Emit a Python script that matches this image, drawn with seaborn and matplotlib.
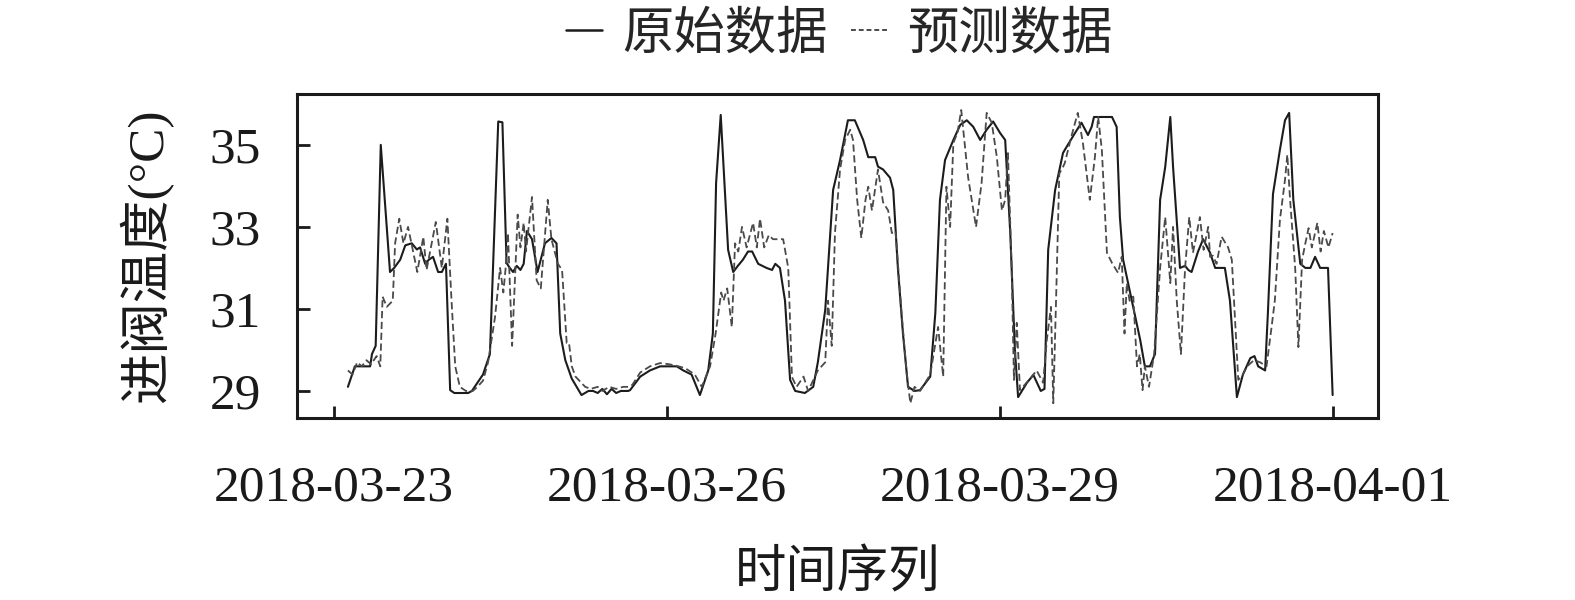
import numpy as np
import pandas as pd
import matplotlib
matplotlib.use("Agg")
import matplotlib.pyplot as plt
import matplotlib.dates as mdates
from matplotlib.lines import Line2D
import seaborn as sns

# Hours elapsed since 2018-03-23 00:00 and measured inlet-valve temperature
orig_hours = [3, 4.5, 7.8, 8.2, 9, 10.1, 12.1, 13, 14.3, 15.4, 16.8, 17.9, 18.6, 19.7,
              20.5, 21.4, 22.5, 23.3, 24.2, 25.1, 26, 29, 29.8, 31, 32.2, 33.7, 35.5,
              36.4, 37.3, 38, 38.7, 39.5, 40.3, 41, 41.7, 42.8, 44.0, 45.6, 47, 48.1,
              48.9, 50, 51.4, 53.5, 55, 56, 57, 58, 59, 60, 61, 62, 63.6, 64, 66.2,
              68.3, 70.5, 74.1, 75.5, 77.3, 79.1, 80.9, 81.9, 82.6, 83.6, 85.2, 86.3,
              87.3, 88.4, 89.5, 90.4, 91.7, 93.5, 94.7, 95.4, 96.4, 97.5, 98.6, 99.7,
              101.8, 103.6, 104.6, 106.2, 107.2, 107.9, 109.4, 111.1, 112.6, 114.4,
              115.5, 117, 117.6, 118.7, 120.2, 120.9, 121.9, 123, 124.1, 125.5, 126.7,
              128.9, 130, 131, 132.1, 133.9, 135.4, 136.8, 138.2, 139.7, 141.1, 142.5,
              144, 145.1, 146.2, 147.2, 147.9, 149.8, 151.2, 152.8, 153.6, 154.4,
              155.9, 157.6, 158, 160.2, 161.6, 163, 163.8, 164.3, 168.2, 169.2, 169.9,
              170.6, 172.5, 174.3, 175.3, 176.4, 177.5, 178.6, 179.7, 180.8, 181.4,
              182.9, 184, 184.7, 185.4, 186.8, 187.9, 189.4, 190.5, 192.6, 193.7,
              195.2, 196.5, 198.1, 199, 199.8, 201.3, 201.9, 203, 204.5, 205.6, 206.5,
              207.4, 208.9, 210, 211.1, 212.1, 213.2, 214.2, 214.9, 215.9]
orig_temp = [29.1, 29.6, 29.6, 29.9, 30.1, 35.0, 31.9, 32.0, 32.2, 32.55, 32.6, 32.45,
             32.5, 32.1, 32.2, 32.27, 31.9, 31.9, 32.1, 29.02, 28.95, 28.95, 29.0, 29.2,
             29.4, 29.9, 35.57, 35.55, 32.12, 32.0, 31.9, 32.05, 31.95, 32.1, 32.9,
             32.7, 31.9, 32.6, 32.73, 32.6, 30.4, 29.75, 29.3, 28.9, 29.0, 29.0, 28.95,
             29.05, 28.92, 29.05, 28.95, 29.0, 29.0, 29.02, 29.35, 29.5, 29.6, 29.6,
             29.5, 29.4, 28.9, 29.5, 30.4, 34.07, 35.73, 32.44, 31.9, 32.05, 32.2,
             32.4, 32.4, 32.1, 32.0, 31.95, 32.1, 32.0, 31.2, 29.27, 29.0, 28.95, 29.1,
             29.7, 30.98, 32.7, 33.9, 34.63, 35.6, 35.6, 35.12, 34.7, 34.7, 34.47,
             34.4, 34.2, 33.9, 32.0, 30.4, 29.1, 29.0, 29.02, 29.35, 30.9, 33.66,
             34.63, 35.12, 35.49, 35.6, 35.44, 35.12, 35.37, 35.57, 35.29, 35.12,
             32.85, 30.0, 28.85, 29.2, 29.39, 29.0, 29.05, 32.44, 33.9, 34.8, 34.88,
             35.29, 35.54, 35.24, 35.44, 35.68, 35.68, 35.44, 33.24, 32.2, 31.2,
             30.24, 29.6, 29.6, 29.9, 33.66, 34.46, 35.68, 34.46, 32.0, 32.05, 31.95,
             31.9, 32.4, 32.7, 32.37, 32.0, 32.0, 31.2, 28.85, 29.4, 29.8, 29.85,
             29.6, 29.5, 30.9, 33.8, 34.88, 35.6, 35.78, 33.66, 32.1, 32.0, 32.0,
             32.27, 32.0, 32.0, 32.0, 28.9]

# Hours elapsed since 2018-03-23 00:00 and model-predicted temperature
pred_hours = [3, 4, 5, 6, 7, 8, 9.2, 10, 10.5, 11.4, 12.7, 13.2, 14.1, 15, 16, 16.9,
              18, 19.3, 20, 22, 23.3, 24.5, 25.4, 26.2, 27.2, 28.5, 30, 31, 32.2,
              33.3, 34.8, 35.9, 36.6, 37.1, 37.6, 38.5, 39.7, 40.3, 41, 41.5, 42.8,
              43.8, 44.7, 46.2, 47, 48.4, 49.3, 50.3, 50.8, 51.4, 52.2, 54.3, 55.5,
              57, 58, 59.5, 61, 62.5, 63.6, 64.5, 66.2, 68.3, 70.5, 72.5, 74.5, 76,
              78, 79.5, 81.3, 82.5, 83.7, 84.2, 85, 86, 86.7, 87.4, 88.2, 89.2, 90.6,
              91.4, 92.1, 93, 94, 94.9, 97.1, 98.2, 99, 100, 101.5, 102.5, 104.6,
              106.2, 106.8, 107.6, 108.3, 109.4, 110.5, 111.6, 112.2, 113.1, 114,
              114.9, 115.5, 116.3, 117.6, 118.7, 119.8, 120.6, 121.4, 122.7, 123.8,
              124.6, 125.5, 126.7, 128.9, 130.6, 131.7, 132.4, 133.2, 133.9, 134.8,
              135.6, 137.1, 138.8, 140, 141.1, 142.2, 143.3, 144.4, 145.1, 145.7,
              146.5, 147, 147.6, 148.3, 150.5, 151.9, 153.3, 154.1, 155, 155.5, 156.1,
              156.8, 157.6, 158, 159.4, 160.8, 161.9, 163.4, 164.5, 165.2, 166, 167.1,
              168.2, 169.5, 170.3, 170.9, 171.4, 172, 172.8, 173.6, 174.2, 174.8,
              175.3, 176.2, 177.3, 178.6, 179.7, 180.8, 181.4, 182.2, 183.1, 184,
              184.9, 185.7, 187.2, 188, 189, 189.4, 190, 190.8, 191.9, 193.3, 194.1,
              195.5, 196.5, 197.4, 198.9, 200.2, 201.6, 202.7, 203.4, 204.5, 205.6,
              206.1, 206.7, 207.8, 208.5, 209.3, 210, 210.7, 211.4, 212.6, 213.3,
              214, 215, 215.9]
pred_temp = [29.5, 29.4, 29.7, 29.6, 29.75, 29.65, 29.85, 29.6, 31.3, 31.05, 31.2,
             32.6, 33.2, 32.6, 33.0, 32.5, 31.9, 32.76, 31.95, 33.12, 32.0, 33.2,
             31.2, 29.6, 29.1, 29.0, 29.0, 29.1, 29.25, 29.7, 30.8, 32.0, 31.4, 32.0,
             32.85, 30.1, 33.3, 32.5, 33.1, 32.4, 33.73, 31.7, 31.5, 33.66, 32.7,
             32.1, 31.95, 30.17, 30.17, 29.6, 29.35, 29.1, 29.05, 29.1, 29.0, 29.1,
             29.05, 29.1, 29.1, 29.15, 29.45, 29.6, 29.68, 29.65, 29.6, 29.55, 29.4,
             29.1, 29.6, 30.4, 31.4, 31.2, 31.5, 30.56, 32.6, 32.4, 33.0, 32.5, 33.1,
             32.5, 33.2, 32.5, 32.8, 32.7, 32.7, 32.0, 29.34, 29.1, 29.35, 29.0,
             29.5, 29.7, 31.2, 30.1, 32.85, 34.4, 35.12, 35.37, 35.12, 33.66, 32.73,
             33.66, 33.98, 33.4, 34.4, 33.6, 33.4, 32.85, 32.9, 30.9, 29.44, 28.7,
             29.1, 29.0, 29.4, 30.56, 29.35, 33.98, 33.0, 35.05, 35.3, 35.85, 34.2,
             33.0, 34.07, 35.78, 35.54, 34.7, 33.4, 33.66, 34.8, 32.0, 29.27, 30.66,
             29.02, 29.3, 29.5, 29.2, 30.24, 31.05, 28.7, 31.2, 34.3, 34.46, 34.56,
             35.2, 35.78, 35.05, 33.66, 34.7, 35.68, 34.88, 32.37, 32.12, 31.88,
             32.27, 30.4, 31.63, 31.2, 31.3, 29.6, 29.9, 29.02, 29.6, 29.1, 29.9,
             32.0, 33.24, 31.63, 33.0, 31.2, 29.9, 32.0, 33.24, 32.37, 33.24, 32.44,
             33.0, 32.27, 32.3, 32.1, 32.76, 32.5, 32.2, 29.27, 29.4, 29.6, 29.75,
             29.7, 29.6, 30.56, 31.2, 33.17, 34.15, 34.76, 33.66, 32.0, 30.07, 32.2,
             32.6, 32.97, 32.5, 33.1, 32.4, 32.9, 32.5, 32.85]

series_labels = ["原始数据", "预测数据"]
date_ticks = ["2018-03-23", "2018-03-26", "2018-03-29", "2018-04-01"]
y_ticks = [29, 31, 33, 35]
x_label = "时间序列"
y_label = "进阀温度(°C)"

start = pd.Timestamp("2018-03-23")
orig_time = start + pd.to_timedelta(orig_hours, unit="h")
pred_time = start + pd.to_timedelta(pred_hours, unit="h")

sns.set_theme(style="white")
plt.rcParams["font.family"] = ["Liberation Serif", "Noto Sans CJK SC"]
plt.rcParams["axes.unicode_minus"] = False

fig = plt.figure(figsize=(15.75, 6), dpi=100)
ax = fig.add_axes([0.1886, 0.3033, 0.6863, 0.54])

solid_color = "#1c1c1c"
dash_color = "#4a4a4a"
dash_style = (0, (4, 2))

sns.lineplot(x=orig_time, y=orig_temp, ax=ax, color=solid_color, linewidth=1.5,
             legend=False)
sns.lineplot(x=pred_time, y=pred_temp, ax=ax, color=dash_color, linewidth=1.3,
             linestyle=dash_style, legend=False)

ax.set_xlim(start - pd.Timedelta(hours=8), pd.Timestamp("2018-04-01") + pd.Timedelta(hours=9.7))
ax.set_ylim(28.34, 36.24)
ax.set_xticks([pd.Timestamp(d) for d in date_ticks])
ax.xaxis.set_major_formatter(mdates.DateFormatter("%Y-%m-%d"))
ax.set_yticks(y_ticks)

for s in ax.spines.values():
    s.set_linewidth(2.2)
    s.set_color("#1a1a1a")

ax.tick_params(axis="both", which="major", direction="in", length=9, width=2,
               color="#1a1a1a", labelsize=37, labelcolor="#1a1a1a",
               bottom=True, left=True, top=False, right=False)
ax.tick_params(axis="x", pad=34)
ax.tick_params(axis="y", pad=26)

ax.set_xlabel(x_label, fontsize=37, labelpad=28, color="#1a1a1a")
ax.set_ylabel(y_label, fontsize=37, labelpad=26, color="#1a1a1a")

handles = [Line2D([], [], color=solid_color, linewidth=1.8),
           Line2D([], [], color=dash_color, linewidth=1.4, linestyle=(0, (2.5, 1.5)))]
fig.legend(handles, series_labels, loc="upper center", bbox_to_anchor=(0.533, 1.058),
           ncol=2, frameon=False, fontsize=37, handlelength=0.7, handletextpad=0.4,
           columnspacing=0.45)

fig.savefig("out.png", dpi=100, facecolor="white")
